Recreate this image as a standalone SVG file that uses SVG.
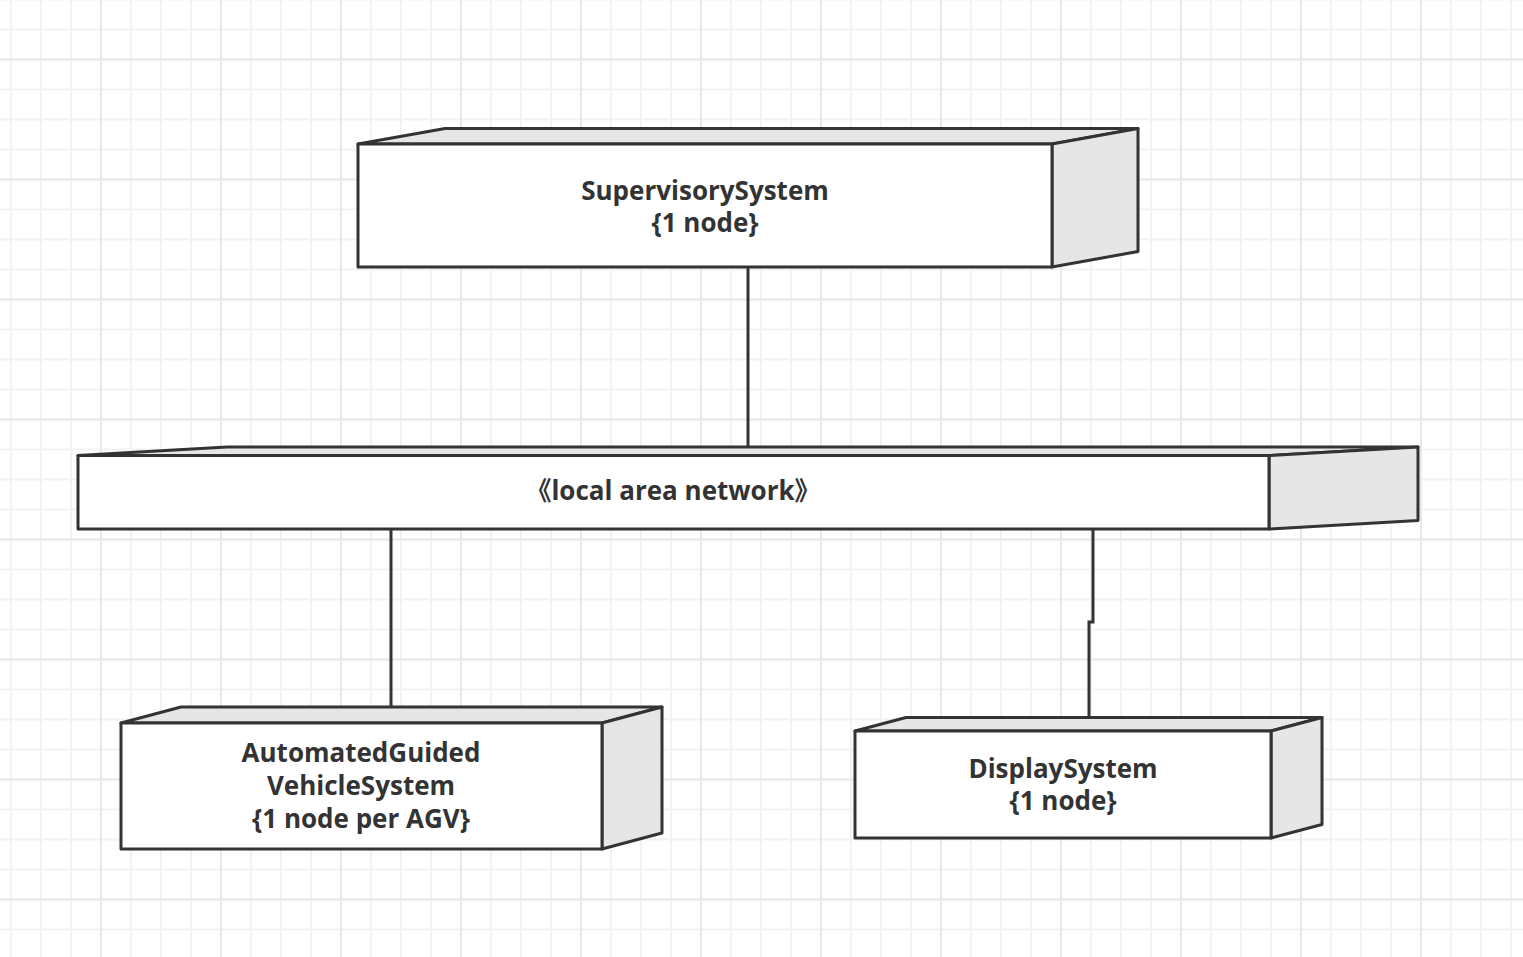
<svg xmlns="http://www.w3.org/2000/svg" width="1523" height="957" viewBox="0 0 1523 957">
<style>
.face{stroke:#333;stroke-width:3;stroke-linejoin:round}
.front{fill:#fff}
.shade{fill:#e6e6e6}
.conn{fill:none;stroke:#333;stroke-width:3}
.lbl{font-family:"Open Sans","Noto Sans CJK SC",sans-serif;font-weight:bold;font-size:26px;fill:#333;text-anchor:middle}
</style>
<defs>
<pattern id="minor" patternUnits="userSpaceOnUse" x="-4" y="14.5" width="30" height="30">
<path d="M15 0V30M0 15H30" stroke="#f2f2f2" stroke-width="2" fill="none"/>
</pattern>
<pattern id="major" patternUnits="userSpaceOnUse" x="41" y="-0.5" width="120" height="120">
<path d="M60 0V120M0 60H120" stroke="#e8e8e8" stroke-width="2" fill="none"/>
</pattern>
</defs>
<rect width="1523" height="957" fill="#fff"/>
<rect width="1523" height="957" fill="url(#minor)"/>
<rect width="1523" height="957" fill="url(#major)"/>
<g id="connectors">
<path class="conn" d="M748 267V447"/>
<path class="conn" d="M391 529V707"/>
<path class="conn" d="M1093 529V622H1089V717"/>
</g>
<g id="supervisory">
<polygon class="face shade" points="358,144 445,128.5 1138,128.5 1052,144"/>
<polygon class="face shade" points="1052,144 1138,128.5 1138,251.5 1052,267"/>
<rect class="face front" x="358" y="144" width="694" height="123"/>
<text class="lbl" x="705" y="200">SupervisorySystem</text>
<text class="lbl" x="705" y="232">{1 node}</text>
</g>
<g id="lan">
<polygon class="face shade" points="78,455.5 227,447 1418,447 1269,455.5"/>
<polygon class="face shade" points="1269,455.5 1418,447 1418,520.5 1269,529"/>
<rect class="face front" x="78" y="455.5" width="1191" height="73.5"/>
<text class="lbl" x="673" y="500">《local area network》</text>
</g>
<g id="agv">
<polygon class="face shade" points="121,723 181,707 662,707 602,723"/>
<polygon class="face shade" points="602,723 662,707 662,833 602,849"/>
<rect class="face front" x="121" y="723" width="481" height="126"/>
<text class="lbl" x="361" y="762">AutomatedGuided</text>
<text class="lbl" x="361" y="795">VehicleSystem</text>
<text class="lbl" x="361" y="828">{1 node per AGV}</text>
</g>
<g id="display">
<polygon class="face shade" points="855,731 906,717.5 1322,717.5 1271,731"/>
<polygon class="face shade" points="1271,731 1322,717.5 1322,824.5 1271,838"/>
<rect class="face front" x="855" y="731" width="416" height="107"/>
<text class="lbl" x="1063" y="778">DisplaySystem</text>
<text class="lbl" x="1063" y="810">{1 node}</text>
</g>
</svg>
